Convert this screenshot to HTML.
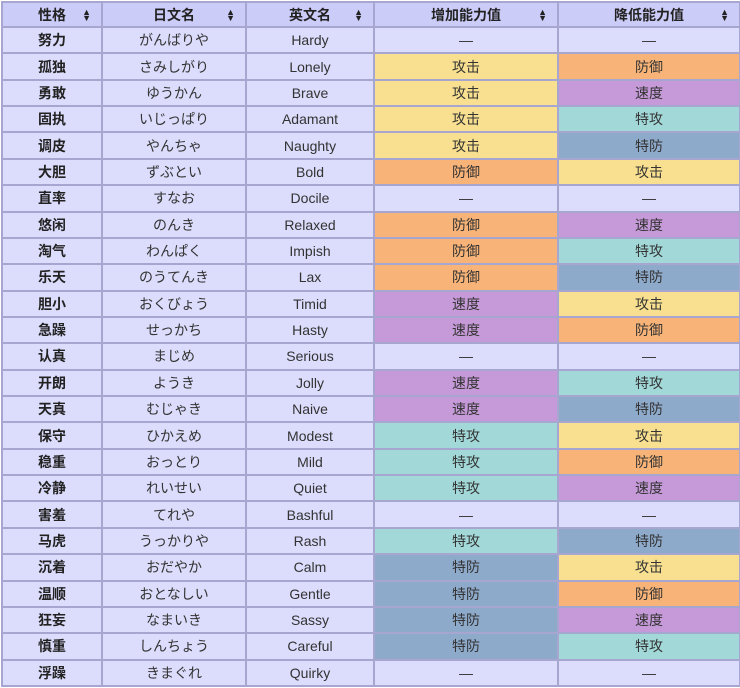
<!DOCTYPE html>
<html><head><meta charset="utf-8"><style>
body{margin:0;background:#fff;}
table{border-collapse:collapse;position:absolute;left:1px;top:1px;width:738px;table-layout:fixed;font-family:"Liberation Sans","Noto Sans CJK SC",sans-serif;font-size:14px;color:#333;}
tr{height:26.36px;}
tr.h{height:25px;}
td,th{border:2px solid #a6a6d0;text-align:center;padding:0;background:#dcdcfc;line-height:22px;}
td{font-weight:normal;}
th{background:#ccccf8;font-weight:bold;position:relative;color:#222;}
th span{position:absolute;right:10px;top:6px;font-size:9px;line-height:6px;}
td.n{font-weight:bold;color:#222;}
.a{background:#f8e090}.d{background:#f8b478}.s{background:#c69ad8}.sa{background:#a2d8d8}.sd{background:#8eaacb}
</style></head><body>
<table>
<colgroup><col style="width:100px"><col style="width:144px"><col style="width:128px"><col style="width:184px"><col style="width:182px"></colgroup>
<tr class="h"><th>性格<span>▲<br>▼</span></th><th>日文名<span>▲<br>▼</span></th><th>英文名<span>▲<br>▼</span></th><th>增加能力值<span>▲<br>▼</span></th><th>降低能力值<span>▲<br>▼</span></th></tr>
<tr><td class="n">努力</td><td>がんばりや</td><td>Hardy</td><td>—</td><td>—</td></tr>
<tr><td class="n">孤独</td><td>さみしがり</td><td>Lonely</td><td class="a">攻击</td><td class="d">防御</td></tr>
<tr><td class="n">勇敢</td><td>ゆうかん</td><td>Brave</td><td class="a">攻击</td><td class="s">速度</td></tr>
<tr><td class="n">固执</td><td>いじっぱり</td><td>Adamant</td><td class="a">攻击</td><td class="sa">特攻</td></tr>
<tr><td class="n">调皮</td><td>やんちゃ</td><td>Naughty</td><td class="a">攻击</td><td class="sd">特防</td></tr>
<tr><td class="n">大胆</td><td>ずぶとい</td><td>Bold</td><td class="d">防御</td><td class="a">攻击</td></tr>
<tr><td class="n">直率</td><td>すなお</td><td>Docile</td><td>—</td><td>—</td></tr>
<tr><td class="n">悠闲</td><td>のんき</td><td>Relaxed</td><td class="d">防御</td><td class="s">速度</td></tr>
<tr><td class="n">淘气</td><td>わんぱく</td><td>Impish</td><td class="d">防御</td><td class="sa">特攻</td></tr>
<tr><td class="n">乐天</td><td>のうてんき</td><td>Lax</td><td class="d">防御</td><td class="sd">特防</td></tr>
<tr><td class="n">胆小</td><td>おくびょう</td><td>Timid</td><td class="s">速度</td><td class="a">攻击</td></tr>
<tr><td class="n">急躁</td><td>せっかち</td><td>Hasty</td><td class="s">速度</td><td class="d">防御</td></tr>
<tr><td class="n">认真</td><td>まじめ</td><td>Serious</td><td>—</td><td>—</td></tr>
<tr><td class="n">开朗</td><td>ようき</td><td>Jolly</td><td class="s">速度</td><td class="sa">特攻</td></tr>
<tr><td class="n">天真</td><td>むじゃき</td><td>Naive</td><td class="s">速度</td><td class="sd">特防</td></tr>
<tr><td class="n">保守</td><td>ひかえめ</td><td>Modest</td><td class="sa">特攻</td><td class="a">攻击</td></tr>
<tr><td class="n">稳重</td><td>おっとり</td><td>Mild</td><td class="sa">特攻</td><td class="d">防御</td></tr>
<tr><td class="n">冷静</td><td>れいせい</td><td>Quiet</td><td class="sa">特攻</td><td class="s">速度</td></tr>
<tr><td class="n">害羞</td><td>てれや</td><td>Bashful</td><td>—</td><td>—</td></tr>
<tr><td class="n">马虎</td><td>うっかりや</td><td>Rash</td><td class="sa">特攻</td><td class="sd">特防</td></tr>
<tr><td class="n">沉着</td><td>おだやか</td><td>Calm</td><td class="sd">特防</td><td class="a">攻击</td></tr>
<tr><td class="n">温顺</td><td>おとなしい</td><td>Gentle</td><td class="sd">特防</td><td class="d">防御</td></tr>
<tr><td class="n">狂妄</td><td>なまいき</td><td>Sassy</td><td class="sd">特防</td><td class="s">速度</td></tr>
<tr><td class="n">慎重</td><td>しんちょう</td><td>Careful</td><td class="sd">特防</td><td class="sa">特攻</td></tr>
<tr><td class="n">浮躁</td><td>きまぐれ</td><td>Quirky</td><td>—</td><td>—</td></tr>
</table>
</body></html>
